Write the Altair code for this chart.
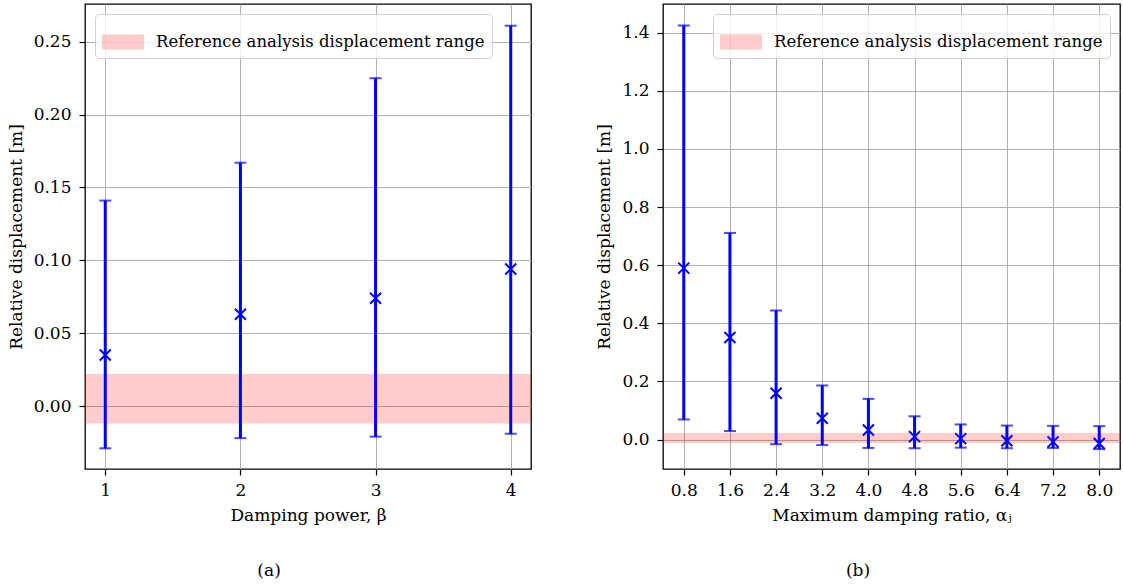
import altair as alt
import pandas as pd

# ---- data ----
beta = [1, 2, 3, 4]
beta_mean = [0.035, 0.063, 0.074, 0.094]
beta_low = [-0.029, -0.022, -0.021, -0.019]
beta_high = [0.141, 0.167, 0.225, 0.261]

alpha = [0.8, 1.6, 2.4, 3.2, 4.0, 4.8, 5.6, 6.4, 7.2, 8.0]
alpha_mean = [0.590, 0.351, 0.159, 0.073, 0.033, 0.010, 0.003, -0.004, -0.008, -0.014]
alpha_low = [0.069, 0.029, -0.016, -0.019, -0.029, -0.030, -0.028, -0.030, -0.029, -0.033]
alpha_high = [1.425, 0.711, 0.444, 0.186, 0.140, 0.080, 0.052, 0.048, 0.047, 0.046]

band_low = [-0.012]
band_high = [0.022]
band_label = ["Reference analysis displacement range"]

beta_ticks = [1, 2, 3, 4]
beta_yticks = [0.00, 0.05, 0.10, 0.15, 0.20, 0.25]
alpha_ticks = [0.8, 1.6, 2.4, 3.2, 4.0, 4.8, 5.6, 6.4, 7.2, 8.0]
alpha_yticks = [0.0, 0.2, 0.4, 0.6, 0.8, 1.0, 1.2, 1.4]

FONT = "DejaVu Serif"
FS = 17
LFS = 16.5
BLUE = "#0000ff"
XPATH = "M-1,-1L1,1M-1,1L1,-1"
LEGEND_PATH = "M-1,-0.36L1,-0.36L1,0.36L-1,0.36Z"


def panel(xs, mean, low, high, xdom, ydom, xticks, yticks, xfmt, yfmt,
          xtitle, legend_orient, caption, w, h):
    df = pd.DataFrame({"x": xs, "mean": mean, "low": low, "high": high})
    bdf = pd.DataFrame({"lo": band_low, "hi": band_high, "label": band_label})

    xscale = alt.Scale(domain=xdom, nice=False, zero=False)
    yscale = alt.Scale(domain=ydom, nice=False, zero=False)
    xaxis = alt.Axis(values=xticks, format=xfmt, title=xtitle, grid=True)
    yaxis = alt.Axis(values=yticks, format=yfmt, title="Relative displacement [m]", grid=True)

    band = alt.Chart(bdf).mark_rect(opacity=0.2).encode(
        y=alt.Y("lo:Q", scale=yscale, axis=yaxis),
        y2="hi:Q",
        color=alt.Color(
            "label:N",
            scale=alt.Scale(range=["#ff0000"]),
            legend=alt.Legend(
                title=None, orient=legend_orient, offset=10,
                symbolType=LEGEND_PATH, symbolSize=1764, symbolOpacity=0.2,
                symbolStrokeWidth=0,
                labelFont=FONT, labelFontSize=LFS, labelColor="black",
                labelOffset=12, labelLimit=1000,
                fillColor="rgba(255,255,255,0.8)", strokeColor="#d0d0d0",
                cornerRadius=4, padding=7,
            ),
        ),
    )

    base = alt.Chart(df).encode(x=alt.X("x:Q", scale=xscale, axis=xaxis))
    rule = base.mark_rule(color=BLUE, strokeWidth=3).encode(
        y=alt.Y("low:Q", scale=yscale, axis=yaxis), y2="high:Q")
    cap_hi = base.mark_tick(orient="horizontal", color=BLUE, size=12, thickness=2).encode(
        y=alt.Y("high:Q", scale=yscale, axis=yaxis))
    cap_lo = base.mark_tick(orient="horizontal", color=BLUE, size=12, thickness=2).encode(
        y=alt.Y("low:Q", scale=yscale, axis=yaxis))
    pts = base.mark_point(shape=XPATH, size=121, filled=False, strokeWidth=2,
                          color=BLUE, opacity=1).encode(
        y=alt.Y("mean:Q", scale=yscale, axis=yaxis))

    return alt.layer(band, rule, cap_hi, cap_lo, pts).properties(
        width=w, height=h,
        title=alt.TitleParams(caption, orient="bottom", anchor="middle",
                              frame="bounds", offset=40, font=FONT,
                              fontSize=FS, fontWeight="normal", color="black"),
    )


left = panel(beta, beta_mean, beta_low, beta_high, [0.85, 4.15], [-0.0432, 0.2759],
             beta_ticks, beta_yticks, "d", ".2f", "Damping power, β", "top-left", "(a)", 446, 465)
right = panel(alpha, alpha_mean, alpha_low, alpha_high, [0.44, 8.36], [-0.1015, 1.499],
              alpha_ticks, alpha_yticks, ".1f", ".1f", "Maximum damping ratio, αⱼ", "top-right", "(b)", 457, 465)

chart = alt.hconcat(left, right, spacing=63).resolve_scale(
    color="independent", x="independent", y="independent"
).resolve_legend(color="independent").properties(
    padding={"left": 6, "top": 3, "right": 2, "bottom": 0}
).configure(
    font=FONT
).configure_view(
    stroke="black", strokeWidth=1.3
).configure_axis(
    labelFont=FONT, labelFontSize=FS, labelColor="black",
    titleFont=FONT, titleFontSize=FS, titleColor="black", titleFontWeight="normal",
    gridColor="#b0b0b0", gridWidth=1, gridOpacity=1,
    tickColor="black", tickSize=6, tickWidth=1.2, domain=False,
).configure_axisY(
    labelPadding=8, titlePadding=8,
).configure_axisX(
    labelPadding=7, titlePadding=9,
)

chart.save("out.html", embed_options={"renderer": "svg", "actions": False})
